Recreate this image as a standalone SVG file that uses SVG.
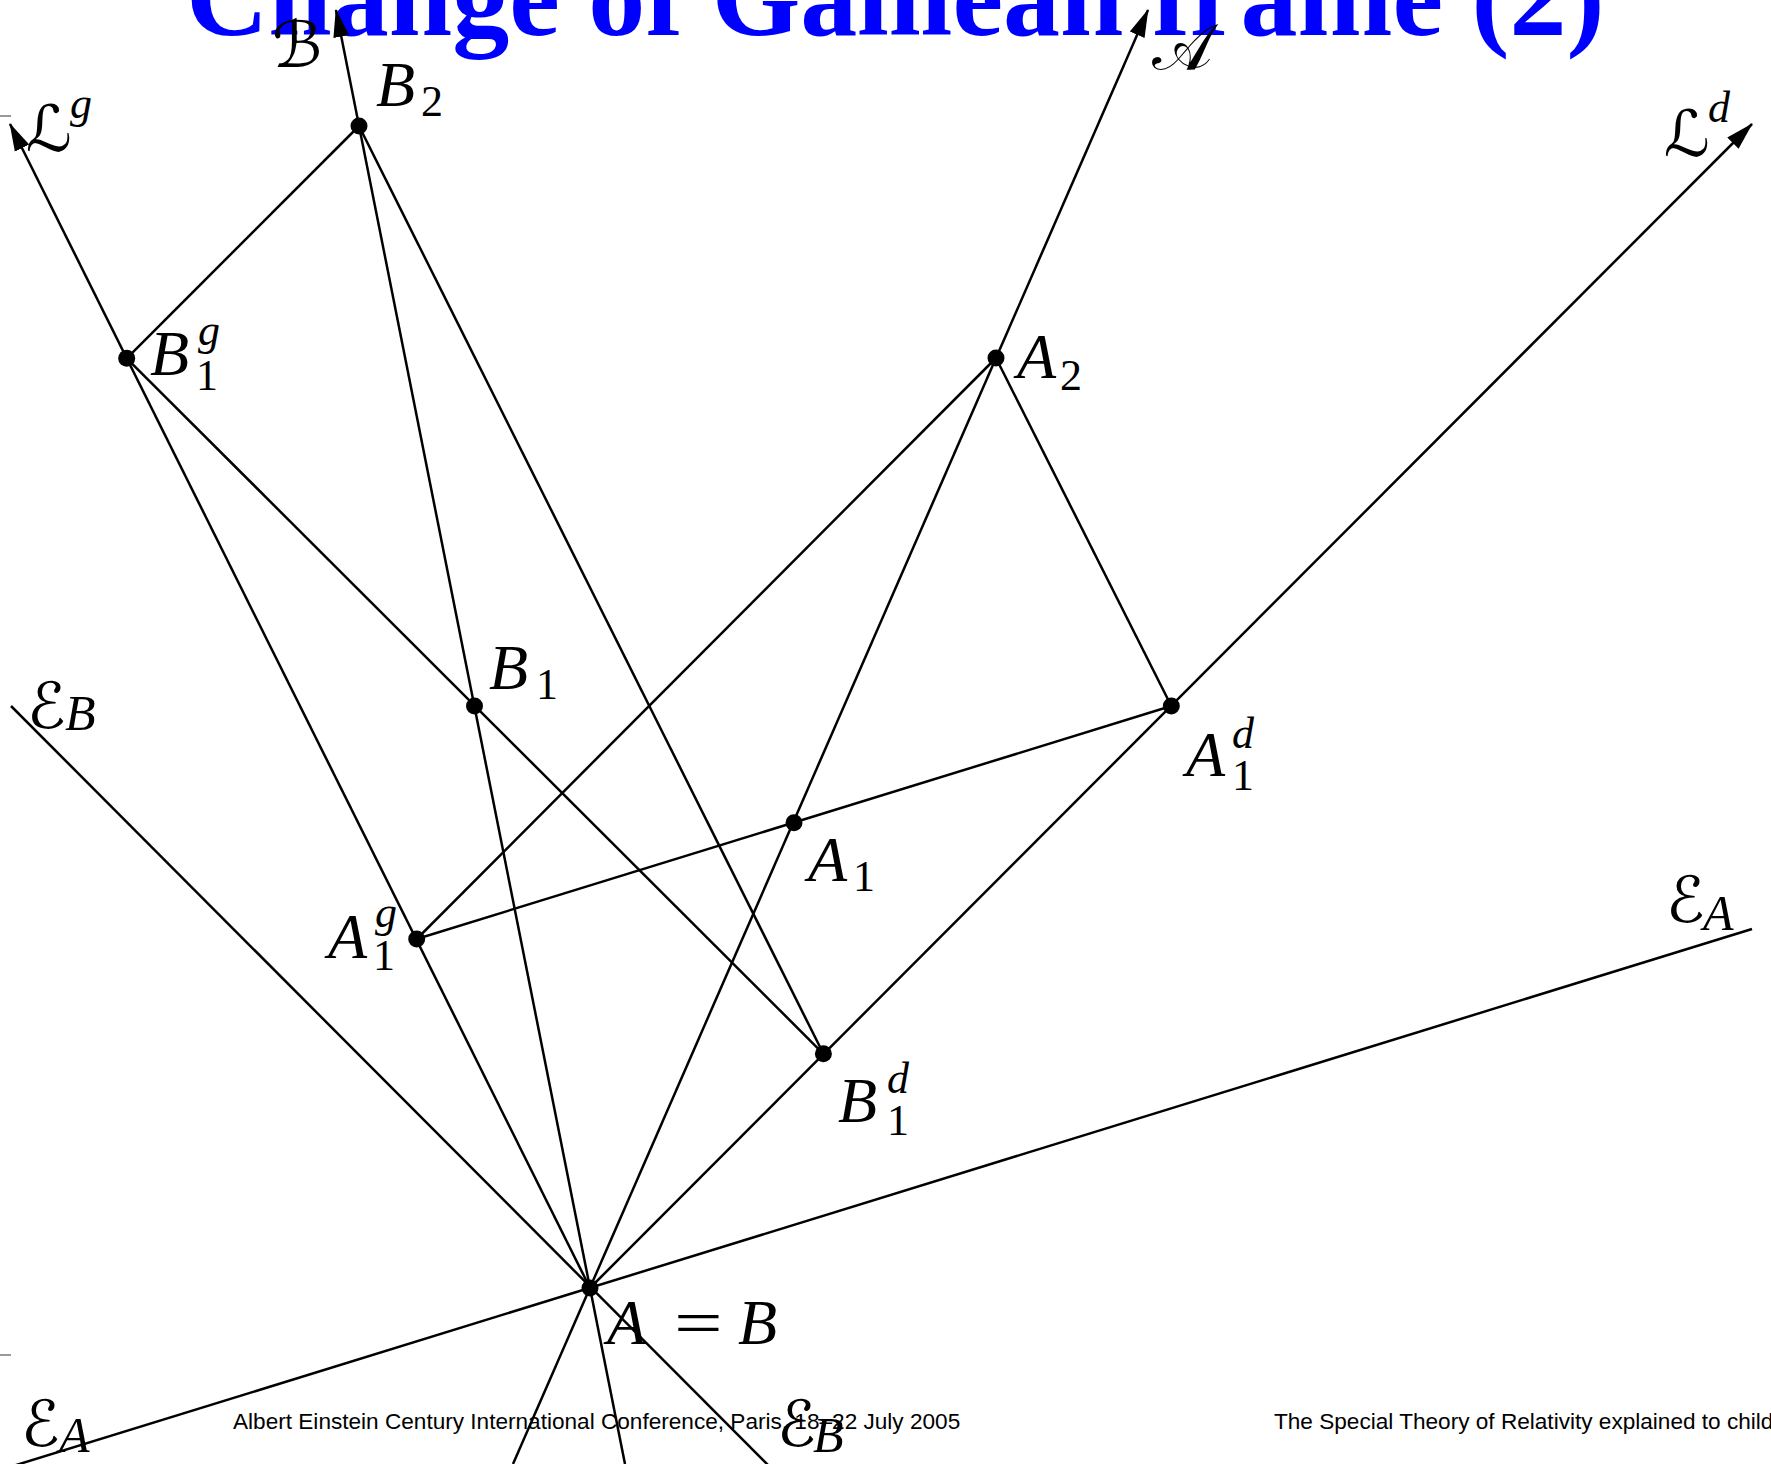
<svg xmlns="http://www.w3.org/2000/svg" width="1771" height="1464" viewBox="0 0 1771 1464">
<style>
.ln{stroke:#000;stroke-width:2.5;fill:none}
.dot{fill:#000}
.m{font-family:'Liberation Serif',serif;font-style:italic;font-size:64px;fill:#000}
.s{font-family:'Liberation Serif',serif;font-size:44px;fill:#000}
.si{font-family:'Liberation Serif',serif;font-style:italic;font-size:44px;fill:#000}
.up{font-family:'Liberation Serif',serif;font-style:normal;font-size:64px;fill:#000}
.cal{font-family:'DejaVu Serif','DejaVu Sans','Noto Sans',serif;font-style:normal;font-size:64px;fill:#000}
.sb{font-family:'Liberation Serif',serif;font-style:italic;font-size:50px;fill:#000}
.foot{font-family:'Liberation Sans',Arial,sans-serif;font-size:22.6px;fill:#000}
.title{font-family:'Liberation Serif','Times New Roman',serif;font-weight:bold;font-size:114px;fill:#0000ff}
.tick{stroke:#999;stroke-width:2}
</style>
<defs>
<marker id="arr" viewBox="0 0 28 18" refX="27" refY="9" markerWidth="28" markerHeight="18" markerUnits="userSpaceOnUse" orient="auto">
<path d="M0,1 L28,9 L0,17 Z" fill="#000"/>
</marker>
</defs>
<rect width="1771" height="1464" fill="#fff"/>
<text class="title" x="186" y="35">Change of Galilean frame (2)</text>
<line class="tick" x1="0" y1="116" x2="11" y2="116"/>
<line class="tick" x1="0" y1="1355" x2="11" y2="1355"/>
<g id="connectors">
<line class="ln" x1="590" y1="1288" x2="10" y2="124" marker-end="url(#arr)"/>
<line class="ln" x1="590" y1="1288" x2="1752" y2="124" marker-end="url(#arr)"/>
<line class="ln" x1="513" y1="1464" x2="1148" y2="10" marker-end="url(#arr)"/>
<line class="ln" x1="625" y1="1464" x2="336" y2="10" marker-end="url(#arr)"/>
<line class="ln" x1="11" y1="706" x2="769" y2="1466"/>
<line class="ln" x1="0" y1="1470" x2="1752" y2="929"/>
<line class="ln" x1="359" y1="126" x2="126.7" y2="358.3"/>
<line class="ln" x1="359" y1="126" x2="823.4" y2="1053.8"/>
<line class="ln" x1="126.7" y1="358.3" x2="823.4" y2="1053.8"/>
<line class="ln" x1="996" y1="358" x2="416.7" y2="939"/>
<line class="ln" x1="996" y1="358" x2="1171.3" y2="706"/>
<line class="ln" x1="416.7" y1="939" x2="1171.3" y2="706"/>
</g>
<g id="O"><circle class="dot" cx="590" cy="1288" r="8.5"/><text class="m" x="607" y="1344">A</text><text class="up" transform="translate(674,1344) scale(1.35,1)">=</text><text class="m" x="738" y="1344" font-size="68">B</text></g>
<g id="B2"><circle class="dot" cx="359" cy="126" r="8.5"/><text class="m" x="376" y="106">B</text><text class="s" x="421" y="116">2</text></g>
<g id="B1g"><circle class="dot" cx="126.7" cy="358.3" r="8.5"/><text class="m" x="150" y="375">B</text><text class="s" x="196" y="390">1</text><text class="si" x="198" y="345">g</text></g>
<g id="B1"><circle class="dot" cx="474.5" cy="706" r="8.5"/><text class="m" x="489" y="689">B</text><text class="s" x="536" y="699">1</text></g>
<g id="A1g"><circle class="dot" cx="416.7" cy="939" r="8.5"/><text class="m" x="328" y="958">A</text><text class="s" x="373" y="970">1</text><text class="si" x="375" y="927">g</text></g>
<g id="A1"><circle class="dot" cx="794" cy="822.7" r="8.5"/><text class="m" x="808" y="881">A</text><text class="s" x="853" y="891">1</text></g>
<g id="A2"><circle class="dot" cx="996" cy="358" r="8.5"/><text class="m" x="1017" y="378">A</text><text class="s" x="1060" y="390">2</text></g>
<g id="A1d"><circle class="dot" cx="1171.3" cy="706" r="8.5"/><text class="m" x="1186" y="776">A</text><text class="s" x="1232" y="790">1</text><text class="si" x="1232" y="748">d</text></g>
<g id="B1d"><circle class="dot" cx="823.4" cy="1053.8" r="8.5"/><text class="m" x="838" y="1122">B</text><text class="s" x="887" y="1135">1</text><text class="si" x="887" y="1093">d</text></g>
<g id="axisB"><text class="cal" x="272" y="67" font-size="60">ℬ</text></g>
<g id="axisA"><text class="cal" x="1152" y="69" font-size="60">𝒜</text></g>
<g id="Lg"><text class="cal" x="26" y="151">ℒ</text><text class="si" x="70" y="118">g</text></g>
<g id="Ld"><text class="cal" x="1664" y="156">ℒ</text><text class="si" x="1708" y="122">d</text></g>
<g id="EB1"><text class="cal" x="27" y="728">ℰ</text><text class="sb" x="65" y="730">B</text></g>
<g id="EA1"><text class="cal" x="1666" y="922">ℰ</text><text class="sb" x="1703" y="930">A</text></g>
<g id="EA2"><text class="cal" x="21" y="1446">ℰ</text><text class="sb" x="59" y="1452">A</text></g>
<g id="EB2"><text class="cal" x="777" y="1446">ℰ</text><text class="sb" x="813" y="1452">B</text></g>
<text class="foot" x="233" y="1429">Albert Einstein Century International Conference, Paris, 18–22 July 2005</text>
<text class="foot" x="1274" y="1429">The Special Theory of Relativity explained to children</text>
</svg>
